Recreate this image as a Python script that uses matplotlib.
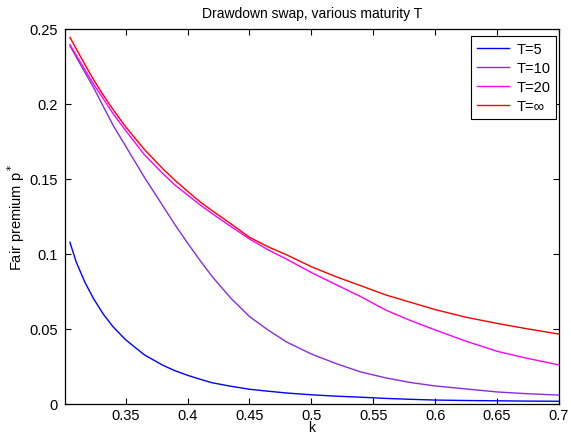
import matplotlib
matplotlib.use("Agg")
import matplotlib.pyplot as plt
from matplotlib.ticker import FormatStrFormatter

# k grid and fair premium p*
k = [0.305, 0.31, 0.317, 0.324, 0.332, 0.34, 0.35, 0.365, 0.38, 0.39,
     0.40, 0.41, 0.42, 0.435, 0.45, 0.465, 0.48, 0.50, 0.52, 0.54,
     0.56, 0.58, 0.60, 0.625, 0.65, 0.675, 0.70]
p_T5 = [0.1075, 0.0945, 0.0810, 0.0700, 0.0595, 0.0510, 0.0425, 0.0325, 0.0255, 0.0218,
        0.0188, 0.0162, 0.0138, 0.0115, 0.0095, 0.0082, 0.0070, 0.0058, 0.0049, 0.0042,
        0.0034, 0.0028, 0.0023, 0.0020, 0.0018, 0.0016, 0.0015]
p_T10 = [0.2385, 0.2312, 0.2209, 0.2108, 0.1980, 0.1853, 0.1716, 0.1510, 0.1318, 0.1190,
         0.1070, 0.0955, 0.0845, 0.0702, 0.0580, 0.0490, 0.0410, 0.0330, 0.0266, 0.0210,
         0.0171, 0.0140, 0.0117, 0.0097, 0.0077, 0.0065, 0.0056]
p_T20 = [0.2392, 0.2323, 0.2226, 0.2130, 0.2031, 0.1931, 0.1820, 0.1660, 0.1533, 0.1455,
         0.1390, 0.1325, 0.1265, 0.1180, 0.1097, 0.1025, 0.0962, 0.0873, 0.0792, 0.0712,
         0.0623, 0.0553, 0.0490, 0.0415, 0.0348, 0.0300, 0.0257]
p_Tinf = [0.2441, 0.2366, 0.2262, 0.2160, 0.2055, 0.1958, 0.1845, 0.1695, 0.1565, 0.1487,
          0.1415, 0.1345, 0.1285, 0.1198, 0.1108, 0.1045, 0.0991, 0.0912, 0.0845, 0.0785,
          0.0724, 0.0675, 0.0626, 0.0575, 0.0534, 0.0497, 0.0463]

series = [("T=5", p_T5, "#0000ff"),
          ("T=10", p_T10, "#8a2be2"),
          ("T=20", p_T20, "#ff00ff"),
          ("T=\u221e", p_Tinf, "#ff0000")]

plt.rcParams['font.family'] = ['Liberation Sans', 'DejaVu Sans']

fig = plt.figure(figsize=(5.71, 4.35), dpi=100)
ax = fig.add_axes([0.1138, 0.0701, 0.979 - 0.1138, 0.932 - 0.0701])

for lab, vals, col in series:
    ax.plot(k, vals, color=col, lw=1.0, label=lab)

ax.set_xlim(0.301, 0.7)
ax.set_ylim(0, 0.25)
ax.set_xticks([0.35, 0.4, 0.45, 0.5, 0.55, 0.6, 0.65, 0.7])
ax.set_yticks([0, 0.05, 0.1, 0.15, 0.2, 0.25])
ax.xaxis.set_major_formatter(FormatStrFormatter('%g'))
ax.yaxis.set_major_formatter(FormatStrFormatter('%g'))
ax.tick_params(direction='in', top=True, right=True, length=4, width=0.8,
               labelsize=10.5, pad=5)
ax.tick_params(axis='x', pad=3)
for s in ax.spines.values():
    s.set_linewidth(0.9)

ax.set_title("Drawdown swap, various maturity T", fontsize=10, pad=8)
ax.set_xlabel("k", fontsize=10, labelpad=-1)
ax.set_ylabel("Fair premium p$^*$", fontsize=10.5, labelpad=2)

leg = ax.legend(loc='upper right', bbox_to_anchor=(0.994, 0.98), borderaxespad=0,
                fontsize=10.5, fancybox=False, framealpha=1, edgecolor='black',
                handlelength=2.2, labelspacing=0.35, handletextpad=0.5)
leg.get_frame().set_linewidth(0.8)

fig.savefig("out.png", dpi=100)
